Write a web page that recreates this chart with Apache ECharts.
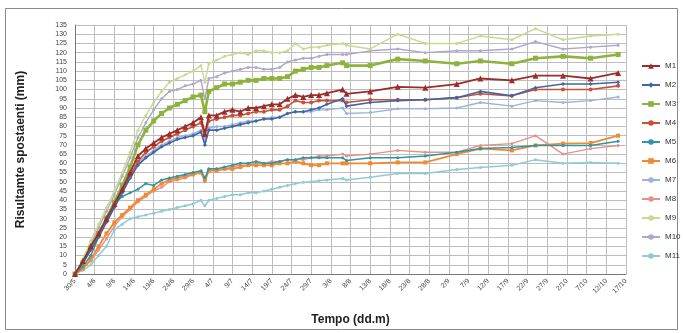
<!DOCTYPE html>
<html>
<head>
<meta charset="utf-8">
<script src="https://cdn.jsdelivr.net/npm/echarts@6/dist/echarts.min.js"></script>
<style>
  html, body { margin: 0; padding: 0; background: #fff; }
  #chart { width: 683px; height: 333px; }
</style>
</head>
<body>
<div id="chart"></div>
<script>
// day offsets from 30/5 of each reading
var days = [0, 2, 4, 6, 8, 10, 12, 14, 16, 18, 20, 22, 24, 26, 28, 30, 32, 33, 34, 36, 38, 40, 42, 44, 46, 48, 50, 52, 54, 56, 58, 60, 62, 64,
            68, 69, 75, 82, 89, 97, 103, 111, 117, 124, 131, 138];

var tickLabels = ['30/5', '4/6', '9/6', '14/6', '19/6', '24/6', '29/6', '4/7', '9/7', '14/7', '19/7', '24/7', '29/7',
                  '3/8', '8/8', '13/8', '18/8', '23/8', '28/8', '2/9', '7/9', '12/9', '17/9', '22/9', '27/9',
                  '2/10', '7/10', '12/10', '17/10'];

var names = ['M1', 'M2', 'M3', 'M4', 'M5', 'M6', 'M7', 'M8', 'M9', 'M10', 'M11'];

var m1 = [0, 7, 15, 22, 30, 38, 46, 55, 64, 68, 71, 74, 76, 78, 80, 82, 85, 76, 86, 86, 88, 89, 88, 90, 90, 91, 92, 92, 95, 97, 96, 97, 97, 98,
          100, 97.7, 99, 101.5, 101, 103, 106, 105, 107.5, 107.5, 106, 109];
var m2 = [0, 6, 13, 20, 28, 36, 44, 52, 59, 63, 66, 69, 71, 73, 74, 75, 77, 70, 78, 78, 79, 80, 81, 82, 83, 84, 84, 85, 87, 88, 88, 89, 90, 92,
          95, 91, 93, 94, 94.5, 95.6, 99, 96.6, 101, 103, 103, 104];
var m3 = [0, 6, 14, 22, 30, 39, 48, 58, 70, 78, 83, 87, 90, 92, 94, 96, 97, 88, 99, 101, 103, 103, 104, 105, 105, 106, 106, 106, 107, 110, 111, 112, 112, 113,
          114.5, 113, 113, 116.5, 115.5, 114, 115.5, 114, 117, 118, 117, 119];
var m4 = [0, 6, 14, 21, 29, 37, 45, 53, 61, 66, 69, 72, 74, 76, 78, 80, 82, 75, 83, 84, 85, 86, 86, 87, 88, 88, 89, 89, 91, 94, 93, 93, 94, 94,
          94, 93, 94.5, 94.5, 94.5, 95.6, 97.7, 96.6, 100, 100, 100, 102];
var m5 = [0, 4, 10, 20, 31, 38, 42, 44, 46, 49, 48, 51, 52, 53, 54, 55, 56, 52, 57, 57, 58, 59, 60, 60, 61, 60, 60, 61, 62, 62, 63, 63, 63, 63,
          63, 61.5, 63, 63, 64, 66, 68, 68.6, 69.7, 69.7, 69.7, 72];
var m6 = [0, 3, 8, 15, 22, 28, 32, 36, 40, 43, 46, 49, 51, 52, 53, 54, 55, 51, 56, 56, 57, 57, 58, 59, 59, 59, 59, 60, 60, 61, 60, 59, 59, 60,
          60, 60, 60, 60.5, 60.5, 65, 68, 67, 69.7, 70.7, 71, 75];
var m7 = [0, 6, 14, 21, 29, 37, 45, 53, 60, 64, 67, 70, 72, 74, 75, 76, 78, 72, 79, 80, 80, 81, 82, 83, 83, 84, 85, 85, 87, 88, 88, 88, 89, 89,
          90, 87, 87.5, 89.6, 89.6, 90, 93, 91, 94, 93, 94, 96];
var m8 = [0, 3, 7, 13, 19, 26, 31, 35, 39, 42, 45, 47, 50, 51, 52, 54, 55, 50, 56, 57, 57, 58, 59, 59, 60, 60, 61, 61, 62, 62, 62, 63, 64, 64,
          65, 64, 65, 67, 66, 66, 69.7, 70.7, 75, 65, 68, 69.7];
var m9 = [0, 8, 18, 27, 36, 45, 55, 66, 78, 86, 93, 99, 104, 106, 108, 110, 113, 104, 114, 116, 118, 119, 120, 119, 121, 121, 120, 120, 121, 125, 122, 123, 123, 124,
          125, 124, 122, 130, 125, 125, 129, 127, 133, 127, 129, 130];
var m10 = [0, 7, 16, 25, 34, 43, 53, 63, 74, 82, 89, 95, 99, 100, 102, 103, 105, 95, 106, 107, 109, 110, 111, 112, 112, 111, 111, 112, 115, 116, 117, 117, 118, 119,
           119, 119, 121, 122, 120, 121, 121, 122, 126, 122, 123, 124];
var m11 = [0, 2, 5, 10, 15, 24, 27, 30, 31, 32, 33, 34, 35, 36, 37, 38, 40, 37, 40, 41, 42, 43, 43, 44, 44, 45, 46, 47, 48, 49, 49.7, 50, 50.5, 51,
           51.8, 51, 52.4, 54.5, 54.5, 56.7, 57.8, 58.9, 62, 60, 60.5, 60];

var values = [m1, m2, m3, m4, m5, m6, m7, m8, m9, m10, m11];
var colors = ['#9B2D2A', '#3F67A8', '#8DB33C', '#CC5038', '#2F95A8', '#F08A2C', '#9DB3D8', '#E8918A', '#C5DB8E', '#AFA7CB', '#8FCBD6'];
var symbols = ['triangle', 'diamond', 'rect', 'circle', 'circle', 'rect', 'circle', 'circle', 'circle', 'circle', 'circle'];
var sizes = [6, 4, 5, 4, 3, 4, 3, 3, 3, 3, 3];
var widths = [1.8, 1.6, 2.6, 1.6, 1.5, 1.8, 1.4, 1.4, 1.4, 1.4, 1.5];

var chart = echarts.init(document.getElementById('chart'));

var series = names.map(function (name, i) {
    return {
        name: name,
        type: 'line',
        symbol: symbols[i],
        symbolSize: sizes[i],
        showSymbol: true,
        data: days.map(function (d, k) { return [d, values[i][k]]; }),
        lineStyle: { width: widths[i], color: colors[i] },
        itemStyle: { color: colors[i] },
        z: 20 - i
    };
});

var option = {
    animation: false,
    color: colors,
    graphic: [{
        type: 'rect',
        shape: { x: 5.5, y: 8.5, width: 672, height: 321 },
        style: { fill: 'none', stroke: '#8a8a8a', lineWidth: 1 },
        silent: true
    }],
    grid: { left: 75, right: 57, top: 25, bottom: 59 },
    legend: {
        data: names,
        orient: 'vertical',
        left: 636,
        top: 57,
        itemWidth: 18,
        itemHeight: 7,
        itemGap: 11,
        textStyle: { fontSize: 8, color: '#333', fontFamily: 'Liberation Sans' }
    },
    xAxis: {
        type: 'value',
        min: 0,
        max: 140,
        interval: 5,
        name: 'Tempo (dd.m)',
        nameLocation: 'middle',
        nameGap: 40,
        nameTextStyle: { fontSize: 12, fontWeight: 'bold', color: '#222', fontFamily: 'Liberation Sans' },
        axisLine: { lineStyle: { color: '#777', width: 1 } },
        axisTick: { show: false },
        axisLabel: {
            rotate: 45,
            fontSize: 7,
            color: '#444',
            margin: 6,
            fontFamily: 'Liberation Sans',
            formatter: function (v) { return tickLabels[Math.round(v / 5)]; }
        },
        splitLine: { show: true, lineStyle: { color: '#bdbdbd', width: 1 } }
    },
    yAxis: {
        type: 'value',
        min: 0,
        max: 135,
        interval: 5,
        name: 'Risultamte spostaenti (mm)',
        nameLocation: 'middle',
        nameGap: 48,
        nameTextStyle: { fontSize: 12, fontWeight: 'bold', color: '#222', fontFamily: 'Liberation Sans' },
        axisLine: { show: true, lineStyle: { color: '#777' } },
        axisTick: { show: false },
        axisLabel: { fontSize: 7, color: '#444', margin: 8, fontFamily: 'Liberation Sans' },
        splitLine: { show: true, lineStyle: { color: '#bdbdbd', width: 1 } }
    },
    series: series
};

chart.setOption(option);
</script>
</body>
</html>
